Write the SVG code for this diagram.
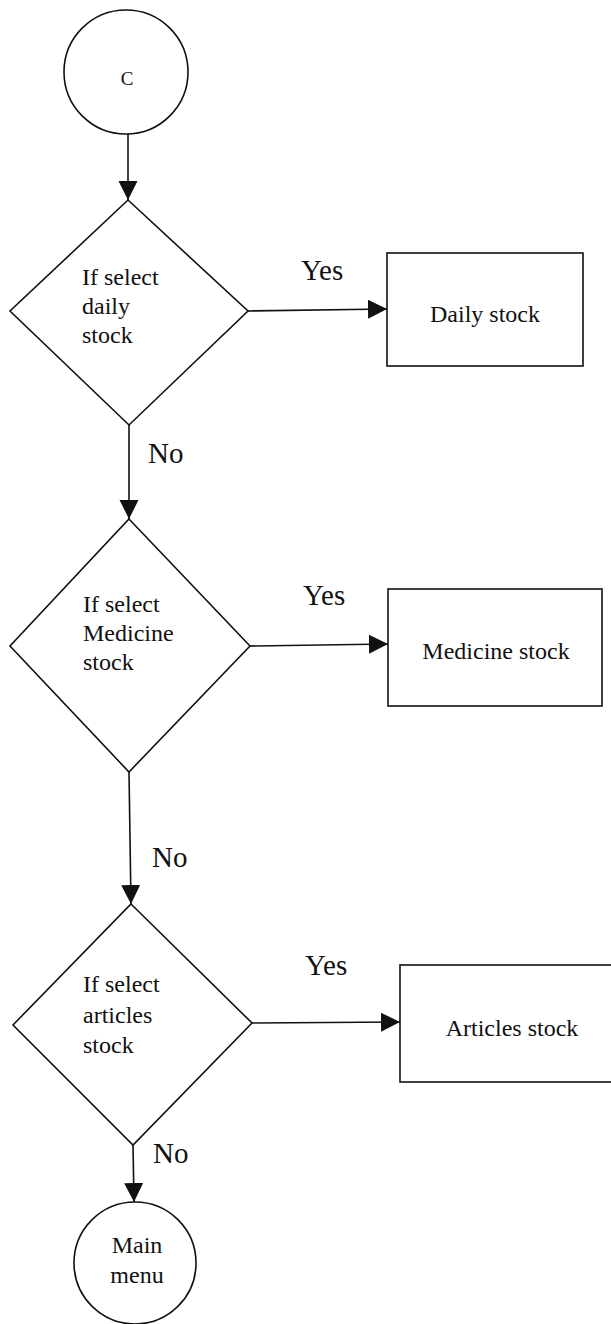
<svg xmlns="http://www.w3.org/2000/svg" width="611" height="1324" viewBox="0 0 611 1324">
  <style>
    .shape { fill: #fff; stroke: #111; stroke-width: 1.6; }
    .edge { fill: none; stroke: #111; stroke-width: 1.6; }
    .lbl { font-family: "Liberation Serif", "Times New Roman", serif; fill: #111; }
    .t24 { font-size: 24px; }
    .t29 { font-size: 29px; }
  </style>
  <defs>
    <marker id="arrow" markerUnits="userSpaceOnUse" markerWidth="20" markerHeight="20" refX="19" refY="9.5" orient="auto">
      <path d="M0,0 L19,9.5 L0,19 Z" fill="#111"/>
    </marker>
  </defs>

  <rect width="611" height="1324" fill="#fff"/>

  <!-- connectors -->
  <g id="connectors">
    <line class="edge" x1="128" y1="134" x2="128" y2="200" marker-end="url(#arrow)"/>
    <line class="edge" x1="248" y1="311" x2="387" y2="309" marker-end="url(#arrow)"/>
    <line class="edge" x1="129" y1="425" x2="129" y2="519" marker-end="url(#arrow)"/>
    <line class="edge" x1="250" y1="646" x2="388" y2="644" marker-end="url(#arrow)"/>
    <line class="edge" x1="129" y1="772" x2="131" y2="904" marker-end="url(#arrow)"/>
    <line class="edge" x1="252" y1="1023" x2="400" y2="1022" marker-end="url(#arrow)"/>
    <line class="edge" x1="133" y1="1145" x2="134" y2="1202" marker-end="url(#arrow)"/>
    <text class="lbl t29" x="301" y="280">Yes</text>
    <text class="lbl t29" x="148" y="463">No</text>
    <text class="lbl t29" x="303" y="605">Yes</text>
    <text class="lbl t29" x="152" y="867">No</text>
    <text class="lbl t29" x="305" y="975">Yes</text>
    <text class="lbl t29" x="153" y="1163">No</text>
  </g>

  <!-- start connector C -->
  <g id="node-c">
    <circle class="shape" cx="126" cy="72" r="62"/>
    <text class="lbl" x="127" y="85" font-size="19" text-anchor="middle">C</text>
  </g>

  <!-- decision: daily stock -->
  <g id="dec-daily">
    <polygon class="shape" points="128,200 248,311 129,425 10,311"/>
    <text class="lbl t24" x="82" y="285">If select</text>
    <text class="lbl t24" x="82" y="314">daily</text>
    <text class="lbl t24" x="82" y="343">stock</text>
  </g>

  <g id="box-daily">
    <rect class="shape" x="387" y="253" width="196" height="113"/>
    <text class="lbl t24" x="485" y="322" text-anchor="middle">Daily stock</text>
  </g>

  <!-- decision: medicine stock -->
  <g id="dec-medicine">
    <polygon class="shape" points="129,519 250,646 129,772 10,646"/>
    <text class="lbl t24" x="83" y="612">If select</text>
    <text class="lbl t24" x="83" y="641">Medicine</text>
    <text class="lbl t24" x="83" y="670">stock</text>
  </g>

  <g id="box-medicine">
    <rect class="shape" x="388" y="589" width="214" height="117"/>
    <text class="lbl t24" x="496" y="659" text-anchor="middle">Medicine stock</text>
  </g>

  <!-- decision: articles stock -->
  <g id="dec-articles">
    <polygon class="shape" points="131,904 252,1023 133,1145 13,1025"/>
    <text class="lbl t24" x="83" y="992">If select</text>
    <text class="lbl t24" x="83" y="1023">articles</text>
    <text class="lbl t24" x="83" y="1053">stock</text>
  </g>

  <g id="box-articles">
    <rect class="shape" x="400" y="965" width="220" height="117"/>
    <text class="lbl t24" x="512" y="1036" text-anchor="middle">Articles stock</text>
  </g>

  <!-- end connector: main menu -->
  <g id="node-main-menu">
    <circle class="shape" cx="135" cy="1263" r="61"/>
    <text class="lbl t24" x="137" y="1253" text-anchor="middle">Main</text>
    <text class="lbl t24" x="137" y="1283" text-anchor="middle">menu</text>
  </g>
</svg>
